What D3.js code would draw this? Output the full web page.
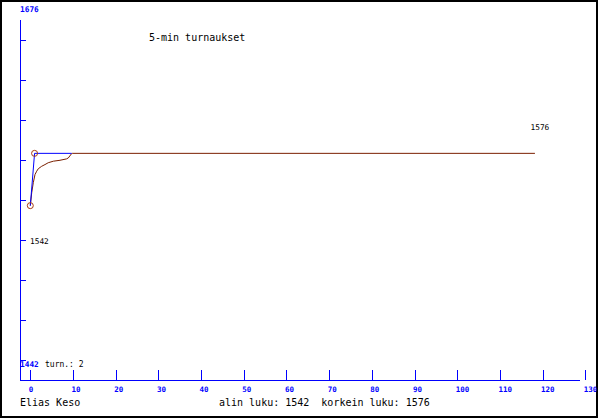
<!DOCTYPE html>
<html><head><meta charset="utf-8">
<script src="https://cdn.jsdelivr.net/npm/d3@7"></script>
<style>body{margin:0;background:#fff}svg{display:block}</style>
</head><body>
<script>
// ---- data ----
const title = "5-min turnaukset";
const author = "Elias Keso";
const footer = "alin luku: 1542  korkein luku: 1576";
const turnLabel = "turn.: 2";
const xTicks = [0,10,20,30,40,50,60,70,80,90,100,110,120,130];
const yTicks = [1442,1468,1494,1520,1546,1572,1598,1624,1650];
const yMin = 1442, yMax = 1676;
// tournament results (circles + blue line)
const turnX = [0, 1, 9.7];
const turnY = [1542, 1576, 1576];
const pointX = [0, 1];
const pointY = [1542, 1576];
// smoothed rating curve (brown)
const curveX = [0, 0.33, 0.7, 1.1, 1.5, 1.87, 2.67, 3.44, 4.2, 5.4, 6.96, 8.5, 8.9, 9.7, 9.84, 118.2];
const curveY = [1542, 1550.4, 1556.9, 1562.2, 1564.4, 1566, 1567.6, 1568.7, 1569.9, 1570.9, 1571.5, 1572.4, 1573, 1575.9, 1576, 1576];
const minVal = 1542, maxVal = 1576;

const W = 600, H = 420;
const svg = d3.select("body").append("svg").attr("width", W).attr("height", H);
const mono = "'DejaVu Sans Mono', monospace";
const blue = "#0000ff";

const x = d3.scaleLinear().domain([0,130]).range([30.3,585.3]);
const y = d3.scaleLinear().domain([yMin,yMax]).range([359.5,-0.5]);

// frame
svg.append("rect").attr("x",1).attr("y",1).attr("width",596).attr("height",416)
  .attr("fill","#fff").attr("stroke","#000").attr("stroke-width",2);

// y axis
svg.append("line").attr("x1",20.5).attr("x2",20.5).attr("y1",20).attr("y2",380)
  .attr("stroke",blue).attr("stroke-width",1);
svg.selectAll(".yt").data(yTicks).enter().append("line")
  .attr("x1",20).attr("x2",26).attr("y1",d=>Math.ceil(y(d))+0.5).attr("y2",d=>Math.ceil(y(d))+0.5)
  .attr("stroke",blue).attr("stroke-width",1);

// x axis
svg.append("line").attr("x1",20).attr("x2",580).attr("y1",380.5).attr("y2",380.5)
  .attr("stroke",blue).attr("stroke-width",1);
svg.selectAll(".xt").data(xTicks).enter().append("line")
  .attr("x1",d=>Math.round(x(d))+0.5).attr("x2",d=>Math.round(x(d))+0.5)
  .attr("y1",370).attr("y2",380)
  .attr("stroke",blue).attr("stroke-width",1);
svg.selectAll(".xl").data(xTicks).enter().append("text")
  .attr("x",d=>x(d)-1.5).attr("y",392)
  .attr("font-family",mono).attr("font-size",7.5).attr("font-weight","bold")
  .attr("fill",blue).text(d=>d);

// y extreme labels
svg.append("text").attr("x",20).attr("y",12).attr("font-family",mono).attr("font-size",7.8)
  .attr("font-weight","bold").attr("fill",blue).text(yMax);
svg.append("text").attr("x",20).attr("y",367).attr("font-family",mono).attr("font-size",7.8)
  .attr("font-weight","bold").attr("fill",blue).text(yMin);
svg.append("text").attr("x",45).attr("y",367).attr("font-family",mono).attr("font-size",8)
  .attr("fill","#000").text(turnLabel);

// title
svg.append("text").attr("x",149).attr("y",41).attr("font-family",mono).attr("font-size",10)
  .attr("fill","#000").text(title);

// curve
const curvePts = curveX.map((d,i)=>[d,curveY[i]]);
svg.append("path").datum(curvePts)
  .attr("d", d3.line().x(d=>x(d[0])).y(d=>y(d[1])))
  .attr("fill","none").attr("stroke","#7a1f00").attr("stroke-width",1);

// blue tournament line
const turnPts = turnX.map((d,i)=>[d,turnY[i]]);
svg.append("path").datum(turnPts)
  .attr("d", d3.line().x(d=>x(d[0])).y(d=>y(d[1])))
  .attr("fill","none").attr("stroke",blue).attr("stroke-width",1);

// points
const pts = pointX.map((d,i)=>[d,pointY[i]]);
svg.selectAll(".pt").data(pts).enter().append("circle")
  .attr("cx",d=>x(d[0])).attr("cy",d=>y(d[1])).attr("r",3)
  .attr("fill","none").attr("stroke","#a83a10").attr("stroke-width",1);

// min/max labels
svg.append("text").attr("x",30).attr("y",243.5).attr("font-family",mono).attr("font-size",7.8)
  .attr("fill","#000").text(minVal);
svg.append("text").attr("x",530.5).attr("y",129.5).attr("font-family",mono).attr("font-size",7.8)
  .attr("fill","#000").text(maxVal);

// footer
svg.append("text").attr("x",20).attr("y",406).attr("font-family",mono).attr("font-size",10)
  .attr("fill","#000").text(author);
svg.append("text").attr("x",219).attr("y",406).attr("font-family",mono).attr("font-size",10)
  .attr("fill","#000").style("white-space","pre").text(footer);
</script>
</body></html>
